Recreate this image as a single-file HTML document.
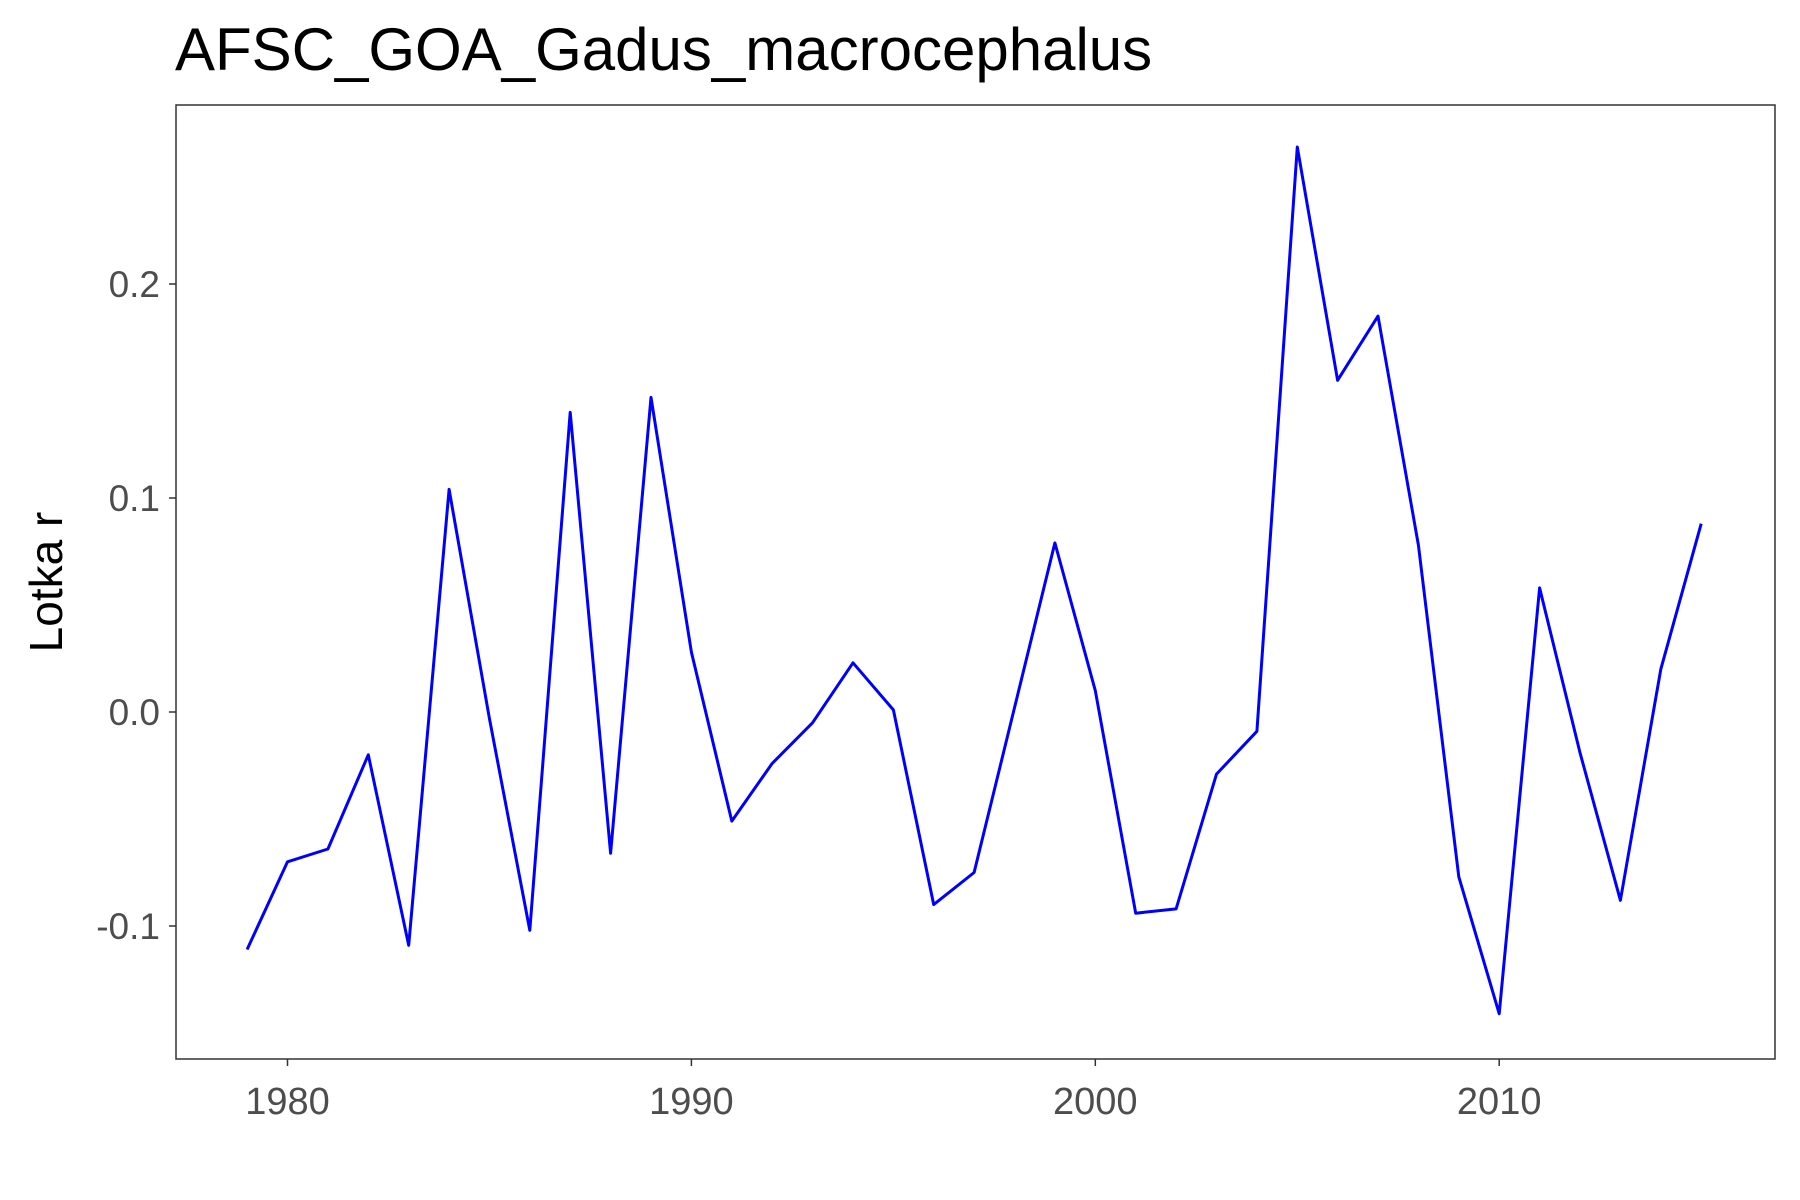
<!DOCTYPE html>
<html><head><meta charset="utf-8"><style>
html,body{margin:0;padding:0;background:#fff;}
svg{display:block;font-family:"Liberation Sans",Arial,sans-serif;}
</style></head><body>
<svg id="chart" width="1800" height="1200" viewBox="0 0 1800 1200" xmlns="http://www.w3.org/2000/svg">
<rect width="1800" height="1200" fill="#fff"/>
<text x="175" y="70" font-size="60" fill="#000">AFSC_GOA_Gadus_macrocephalus</text>
<g id="yticks"></g>
<g id="xticks"></g>
<text transform="translate(62,582) rotate(-90)" text-anchor="middle" font-size="46" fill="#000">Lotka r</text>
<path id="line" fill="none" stroke="#0000ff" stroke-width="3" stroke-linejoin="round"/>
<rect x="176" y="105" width="1599" height="954" fill="none" stroke="#333" stroke-width="1.5"/>
</svg>
<script>
const years = [1979,1980,1981,1982,1983,1984,1985,1986,1987,1988,1989,1990,1991,1992,1993,1994,1995,1996,1997,1998,1999,2000,2001,2002,2003,2004,2005,2006,2007,2008,2009,2010,2011,2012,2013,2014,2015];
const values = [-0.111,-0.070,-0.064,-0.020,-0.109,0.104,-0.003,-0.102,0.140,-0.066,0.147,0.028,-0.051,-0.024,-0.005,0.023,0.001,-0.090,-0.075,0.002,0.079,0.010,-0.094,-0.092,-0.029,-0.009,0.264,0.155,0.185,0.078,-0.077,-0.141,0.058,-0.019,-0.088,0.020,0.088];
const xTickValues = [1980,1990,2000,2010];
const yTickValues = [-0.1,0.0,0.1,0.2];
const yTickLabels = ["-0.1","0.0","0.1","0.2"];

const xs = y => 287.5 + (y-1980)*40.39;
const ys = v => 712 - v*2140;
const NS="http://www.w3.org/2000/svg";
let d="";
years.forEach((yr,i)=>{d+=(i?"L":"M")+xs(yr).toFixed(1)+","+ys(values[i]).toFixed(1);});
document.getElementById("line").setAttribute("d",d);
const yg=document.getElementById("yticks");
yTickValues.forEach((v,i)=>{
  const t=document.createElementNS(NS,"line");
  t.setAttribute("x1",169);t.setAttribute("x2",176);
  t.setAttribute("y1",ys(v));t.setAttribute("y2",ys(v));
  t.setAttribute("stroke","#333");t.setAttribute("stroke-width","1.5");
  
  
  yg.appendChild(t);
  const l=document.createElementNS(NS,"text");
  l.setAttribute("x",160);l.setAttribute("y",ys(v)+13);
  l.setAttribute("text-anchor","end");l.setAttribute("font-size","37");l.setAttribute("fill","#4d4d4d");
  l.textContent=yTickLabels[i];
  
  
  yg.appendChild(l);
});
const xg=document.getElementById("xticks");
xTickValues.forEach(v=>{
  const t=document.createElementNS(NS,"line");
  t.setAttribute("x1",xs(v));t.setAttribute("x2",xs(v));
  t.setAttribute("y1",1059);t.setAttribute("y2",1066);
  t.setAttribute("stroke","#333");t.setAttribute("stroke-width","1.5");
  
  
  xg.appendChild(t);
  const l=document.createElementNS(NS,"text");
  l.setAttribute("x",xs(v));l.setAttribute("y",1114);
  l.setAttribute("text-anchor","middle");l.setAttribute("font-size","38");l.setAttribute("fill","#4d4d4d");
  l.textContent=String(v);
  
  
  xg.appendChild(l);
});
</script>
</body></html>
